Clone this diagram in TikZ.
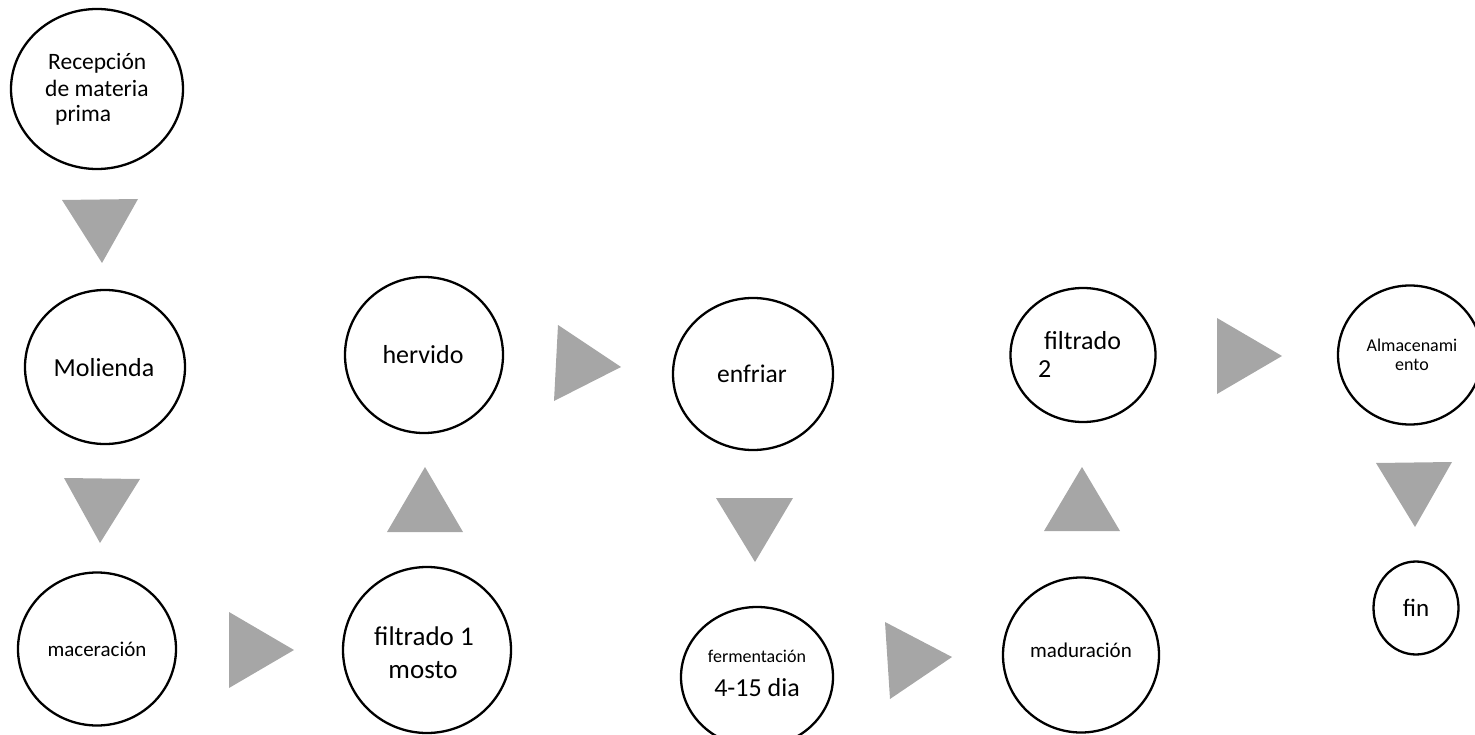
\documentclass[tikz,border=0pt]{standalone}
\usepackage{fontspec}
\setmainfont{Carlito}
\usetikzlibrary{shapes.geometric}
\definecolor{tgray}{RGB}{166,166,166}
\tikzset{
  stage/.style={ellipse, draw=black, line width=2.3pt, inner sep=0pt, fill=none},
  tri/.style={fill=tgray},
  lbl/.style={inner sep=0pt, text=black}
}
\newcommand{\fsz}[1]{\fontsize{#1}{#1}\selectfont}
\begin{document}
\begin{tikzpicture}[x=1pt,y=-1pt]
\useasboundingbox (0,0) rectangle (1475,735);
\clip (0,0) rectangle (1475,735);
% stages
\node[stage, minimum width=172pt, minimum height=160pt] (c1) at (97,89) {};
\node[stage, minimum width=160pt, minimum height=154pt] (c2) at (105,367) {};
\node[stage, minimum width=158pt, minimum height=153pt] (c3) at (97,649) {};
\node[stage, minimum width=168pt, minimum height=166pt] (c4) at (427,650) {};
\node[stage, minimum width=158pt, minimum height=156pt] (c5) at (424,355) {};
\node[stage, minimum width=160pt, minimum height=152pt] (c6) at (753,374) {};
\node[stage, minimum width=152pt, minimum height=140pt] (c7) at (757,677) {};
\node[stage, minimum width=156pt, minimum height=155pt] (c8) at (1081,655) {};
\node[stage, minimum width=145pt, minimum height=134pt] (c9) at (1083,355) {};
\node[stage, minimum width=144pt, minimum height=139pt] (c10) at (1410,355) {};
\node[stage, minimum width=85pt, minimum height=93pt] (c11) at (1416,608) {};
% labels
\node[lbl, anchor=base west] (t1a) at (48,70) {\fsz{23.5}Recepción};
\node[lbl, anchor=base west] (t1b) at (45,97) {\fsz{23.5}de materia};
\node[lbl, anchor=base west] (t1c) at (55,122) {\fsz{23.5}prima};
\node[lbl, anchor=base] (t2) at (104,376) {\fsz{26}Molienda};
\node[lbl, anchor=base] (t3) at (97,656) {\fsz{21}maceración};
\node[lbl, anchor=base] (t4a) at (424,645) {\fsz{27}filtrado 1};
\node[lbl, anchor=base] (t4b) at (423,678) {\fsz{27}mosto};
\node[lbl, anchor=base] (t5) at (423,363) {\fsz{26}hervido};
\node[lbl, anchor=base] (t6) at (752,382) {\fsz{25.5}enfriar};
\node[lbl, anchor=base] (t7a) at (757,662) {\fsz{18}fermentación};
\node[lbl, anchor=base] (t7b) at (757,696) {\fsz{26}4-15 dia};
\node[lbl, anchor=base] (t8) at (1081,657) {\fsz{21}maduración};
\node[lbl, anchor=base west] (t9a) at (1044,349) {\fsz{26}filtrado};
\node[lbl, anchor=base west] (t9b) at (1038,377) {\fsz{26}2};
\node[lbl, anchor=base] (t10a) at (1412,352) {\fsz{18}Almacenami};
\node[lbl, anchor=base] (t10b) at (1412,370) {\fsz{18}ento};
\node[lbl, anchor=base] (t11) at (1416,616) {\fsz{25}fin};
% arrows (grey triangles)
\fill[tri] (62,200) -- (138,199) -- (102,263) -- cycle;
\fill[tri] (64,478) -- (140,479) -- (100,543) -- cycle;
\fill[tri] (229,612) -- (229,688) -- (294,650) -- cycle;
\fill[tri] (387,532) -- (463,532) -- (425,467) -- cycle;
\fill[tri] (558,325) -- (554,401) -- (621,367) -- cycle;
\fill[tri] (716,498) -- (793,498) -- (755,562) -- cycle;
\fill[tri] (885,622) -- (890,699) -- (952,657) -- cycle;
\fill[tri] (1044,531) -- (1120,531) -- (1082,467) -- cycle;
\fill[tri] (1217,318) -- (1217,394) -- (1282,356) -- cycle;
\fill[tri] (1376,463) -- (1452,462) -- (1415,527) -- cycle;
\end{tikzpicture}
\end{document}
